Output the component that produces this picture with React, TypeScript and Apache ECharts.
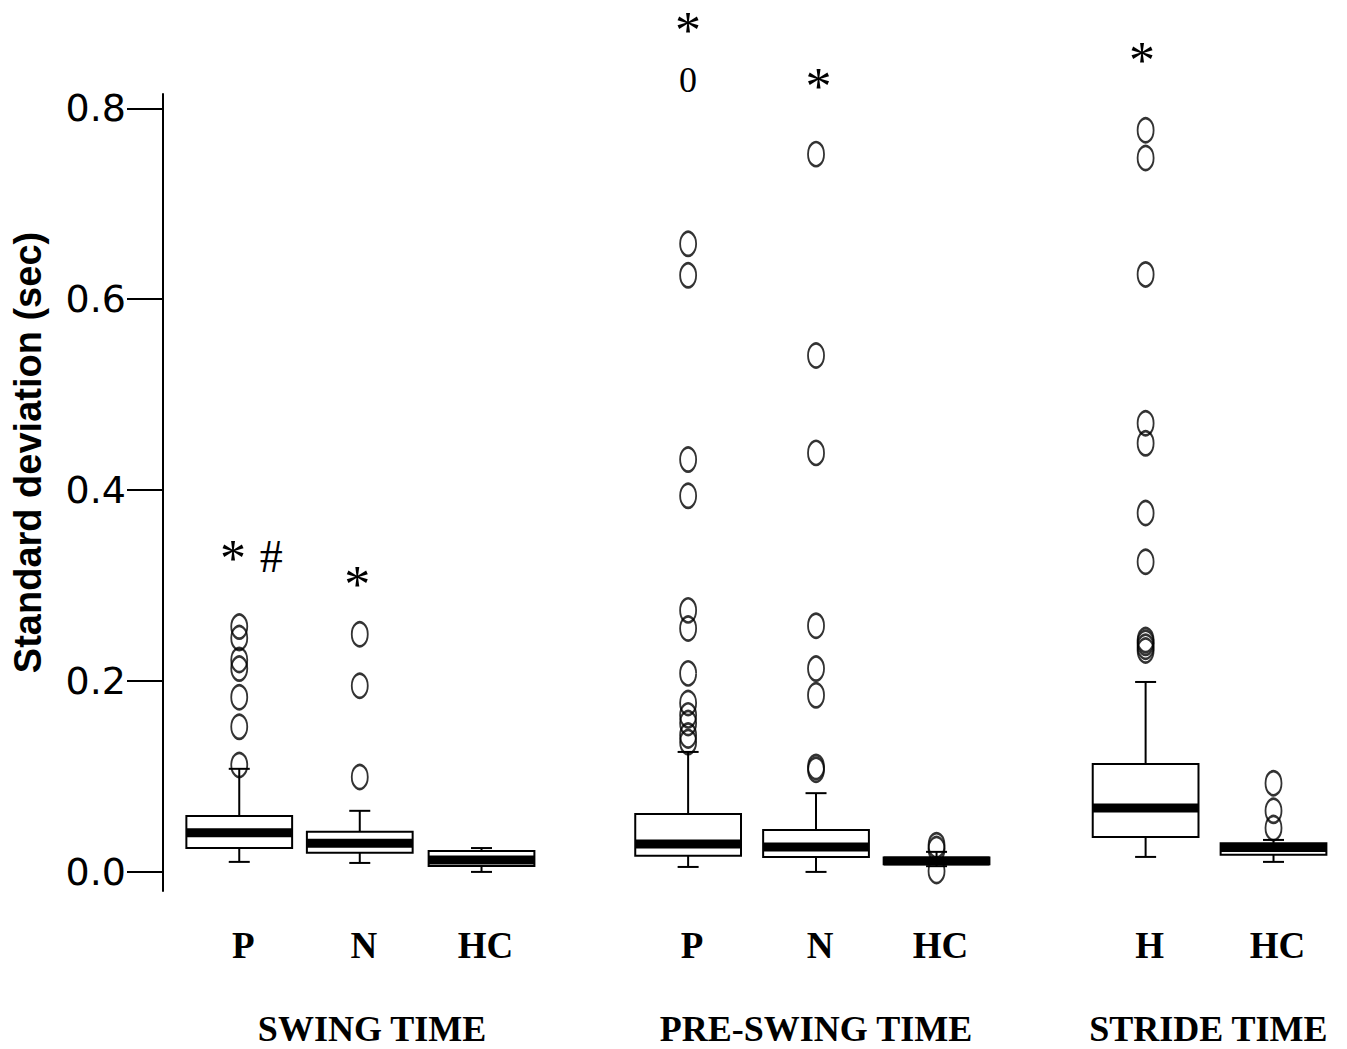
import React, { useEffect, useRef } from "react";
import * as echarts from "echarts";

const categories = ["P", "N", "HC", "P", "N", "HC", "H", "HC"];
const positions = [1.0, 1.98, 2.97, 4.65, 5.69, 6.67, 8.37, 9.41];
const lowWhisker = [0.0105, 0.0094, 0.0, 0.0052, 0.0, 0.006, 0.0157, 0.0105];
const q1 = [0.025, 0.02, 0.0063, 0.0168, 0.0157, 0.008, 0.0367, 0.018];
const median = [0.041, 0.03, 0.0126, 0.0293, 0.026, 0.0115, 0.067, 0.0257];
const q3 = [0.0586, 0.042, 0.022, 0.0607, 0.044, 0.015, 0.113, 0.03];
const highWhisker = [0.108, 0.064, 0.025, 0.1257, 0.0825, 0.021, 0.199, 0.0335];
const outliers: number[][] = [
  [0.257, 0.245, 0.222, 0.213, 0.183, 0.152, 0.112],
  [0.249, 0.195, 0.0995],
  [],
  [0.658, 0.625, 0.432, 0.394, 0.274, 0.255, 0.208, 0.177, 0.164, 0.156, 0.143, 0.136],
  [0.752, 0.541, 0.439, 0.258, 0.213, 0.185, 0.11, 0.107],
  [0.028, 0.024, 0.001],
  [0.777, 0.748, 0.626, 0.47, 0.449, 0.376, 0.325, 0.243, 0.24, 0.236, 0.232],
  [0.093, 0.064, 0.046],
];
const groupNames = ["SWING TIME", "PRE-SWING TIME", "STRIDE TIME"];
const groupPositions = [2.08, 5.69, 8.88];
const yTicks = [0, 0.2, 0.4, 0.6, 0.8];
const annotText = ["*", "#", "*", "*", "0", "*", "*"];
const annotX = [0.95, 1.26, 1.96, 4.65, 4.65, 5.71, 8.34];
const annotY = [0.337, 0.33, 0.309, 0.89, 0.83, 0.831, 0.859];

const BOX_W = 0.86;
const CAP_HALF = 10.5;

export default function App() {
  const ref = useRef<HTMLDivElement>(null);
  useEffect(() => {
    if (!ref.current) return;
    const chart = echarts.init(ref.current, undefined, { renderer: "svg" });
    const boxData = positions.map((p, i) => [p, lowWhisker[i], q1[i], median[i], q3[i], highWhisker[i]]);
    const outlierData: number[][] = [];
    outliers.forEach((arr, i) => arr.forEach((v) => outlierData.push([positions[i], v])));
    const annotData = annotText.map((t, i) => [annotX[i], annotY[i], i]);
    const hiddenAxis = {
      axisLine: { show: false },
      axisTick: { show: false },
      splitLine: { show: false },
    };
    const option: any = {
      animation: false,
      backgroundColor: "#fff",
      grid: {
        left: 163,
        right: 12,
        top: 94,
        bottom: 158,
        containLabel: false,
        outerBoundsMode: "none",
      },
      xAxis: [
        {
          type: "value",
          min: 0.38,
          max: 9.91,
          ...hiddenAxis,
          axisLabel: {
            customValues: positions,
            formatter: (v: number) => {
              const idx = positions.findIndex((p) => Math.abs(p - v) < 1e-6);
              return idx >= 0 ? categories[idx] : "";
            },
            fontFamily: "Liberation Serif",
            fontWeight: "bold",
            fontSize: 37,
            lineHeight: 37,
            color: "#000",
            margin: 36,
            padding: [0, 0, 0, 8],
          },
        },
        {
          type: "value",
          min: 0.38,
          max: 9.91,
          position: "bottom",
          ...hiddenAxis,
          axisLabel: {
            customValues: groupPositions,
            formatter: (v: number) => {
              const idx = groupPositions.findIndex((p) => Math.abs(p - v) < 1e-6);
              return idx >= 0 ? groupNames[idx] : "";
            },
            fontFamily: "Liberation Serif",
            fontWeight: "bold",
            fontSize: 36,
            lineHeight: 36,
            color: "#000",
            margin: 120,
          },
        },
      ],
      yAxis: {
        type: "value",
        min: -0.02,
        max: 0.815,
        splitLine: { show: false },
        axisLine: { show: true, lineStyle: { color: "#000", width: 2 } },
        axisTick: { show: true, length: 36, customValues: yTicks, lineStyle: { color: "#000", width: 2 } },
        axisLabel: {
          customValues: yTicks,
          formatter: (v: number) => v.toFixed(1),
          fontFamily: "DejaVu Sans",
          fontSize: 38,
          color: "#000",
          margin: 37,
        },
        name: "Standard deviation (sec)",
        nameLocation: "middle",
        nameGap: 116,
        nameRotate: 90,
        nameTextStyle: {
          fontFamily: "Liberation Sans",
          fontWeight: "bold",
          fontSize: 38,
          color: "#000",
          padding: [0, 0, 0, 80],
        },
      },
      series: [
        {
          type: "custom",
          name: "boxes",
          xAxisIndex: 0,
          data: boxData,
          z: 2,
          renderItem: (params: any, api: any) => {
            const x = api.value(0);
            const pLo = api.coord([x, api.value(1)]);
            const pA = api.coord([x, api.value(2)]);
            const pM = api.coord([x, api.value(3)]);
            const pB = api.coord([x, api.value(4)]);
            const pHi = api.coord([x, api.value(5)]);
            const cx = pLo[0];
            const halfW = api.size([BOX_W, 0])[0] / 2;
            const ls = { stroke: "#000", lineWidth: 2 };
            return {
              type: "group",
              children: [
                { type: "line", shape: { x1: cx, y1: pB[1], x2: cx, y2: pHi[1] }, style: ls },
                { type: "line", shape: { x1: cx - CAP_HALF, y1: pHi[1], x2: cx + CAP_HALF, y2: pHi[1] }, style: ls },
                { type: "line", shape: { x1: cx, y1: pA[1], x2: cx, y2: pLo[1] }, style: ls },
                { type: "line", shape: { x1: cx - CAP_HALF, y1: pLo[1], x2: cx + CAP_HALF, y2: pLo[1] }, style: ls },
                {
                  type: "rect",
                  shape: { x: cx - halfW, y: pB[1], width: halfW * 2, height: pA[1] - pB[1] },
                  style: { fill: "#fff", stroke: "#000", lineWidth: 2 },
                },
                {
                  type: "rect",
                  shape: { x: cx - halfW, y: pM[1] - 4.5, width: halfW * 2, height: 9 },
                  style: { fill: "#000" },
                },
              ],
            };
          },
        },
        {
          type: "scatter",
          name: "outliers",
          xAxisIndex: 0,
          data: outlierData,
          symbol: "circle",
          symbolSize: [16, 24],
          z: 3,
          itemStyle: { color: "rgba(0,0,0,0)", borderColor: "#000", borderWidth: 2.2 },
        },
        {
          type: "custom",
          name: "annotations",
          xAxisIndex: 0,
          data: annotData,
          clip: false,
          z: 4,
          renderItem: (params: any, api: any) => {
            const p = api.coord([api.value(0), api.value(1)]);
            const t = annotText[api.value(2)];
            const fs = t === "*" ? 52 : t === "#" ? 46 : 36;
            const dy = t === "*" ? 8 : 0;
            return {
              type: "text",
              x: p[0],
              y: p[1] + dy,
              style: {
                text: t,
                fontFamily: "Liberation Serif",
                fontSize: fs,
                fill: "#000",
                align: "center",
                verticalAlign: "middle",
              },
            };
          },
        },
      ],
    };
    chart.setOption(option);
    return () => chart.dispose();
  }, []);
  return (
    <div
      ref={ref}
      style={{ position: "fixed", left: 0, top: 0, width: 1347, height: 1049, background: "#fff" }}
    />
  );
}
